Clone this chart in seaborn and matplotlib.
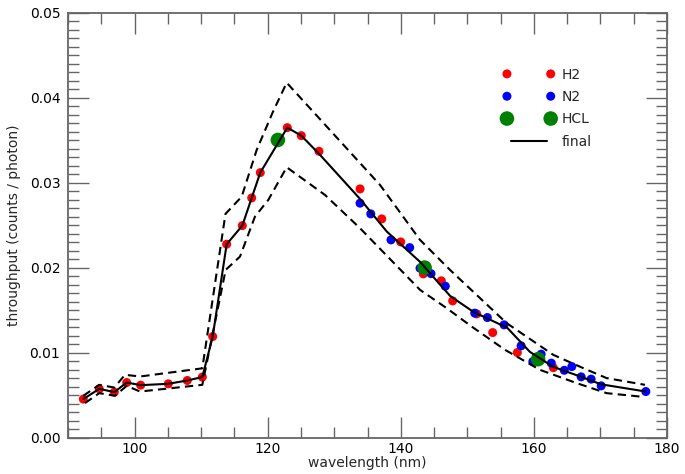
import numpy as np
import pandas as pd
import matplotlib
matplotlib.use("Agg")
import matplotlib.pyplot as plt
from matplotlib.ticker import MultipleLocator, FormatStrFormatter
from matplotlib.legend_handler import HandlerPathCollection
import seaborn as sns

# measured throughput, per gas
h2_wl = [92.30, 94.70, 96.96, 98.82, 100.92, 105.07, 107.92, 110.18, 111.74, 113.84,
         116.19, 117.60, 118.89, 122.95, 125.05, 127.71, 133.88, 137.14, 139.99, 143.39,
         146.09, 147.80, 151.41, 153.81, 157.51, 162.92]
h2_tp = [0.00452, 0.00573, 0.00534, 0.00647, 0.00616, 0.00632, 0.00671, 0.00711, 0.01188, 0.02275,
         0.02494, 0.02820, 0.03118, 0.03647, 0.03553, 0.03369, 0.02926, 0.02573, 0.02302, 0.01926,
         0.01844, 0.01608, 0.01455, 0.01235, 0.01000, 0.00822]

n2_wl = [133.88, 135.49, 138.53, 141.34, 142.89, 144.54, 146.69, 151.11, 153.01, 155.52,
         158.08, 159.84, 161.09, 162.62, 164.57, 165.70, 167.10, 168.60, 170.11, 176.82]
n2_tp = [0.02758, 0.02632, 0.02326, 0.02235, 0.01993, 0.01929, 0.01781, 0.01464, 0.01412, 0.01326,
         0.01079, 0.00894, 0.00981, 0.00875, 0.00791, 0.00835, 0.00714, 0.00687, 0.00608, 0.00541]

hcl_wl = [121.53, 143.58, 160.63]
hcl_tp = [0.03502, 0.02000, 0.00922]

# final curve and its upper / lower envelope
final_wl = [92.30, 94.70, 96.96, 98.82, 100.92, 105.07, 107.92, 110.18, 111.74, 113.84,
            116.19, 117.60, 118.89, 122.95, 125.05, 127.71, 133.88, 137.90, 142.90, 147.40,
            150.90, 156.00, 159.40, 162.90, 167.10, 170.10, 176.82]
final_tp = [0.00452, 0.00573, 0.00534, 0.00647, 0.00616, 0.00632, 0.00671, 0.00711, 0.01188, 0.02275,
            0.02494, 0.02820, 0.03118, 0.03647, 0.03553, 0.03340, 0.02808, 0.02424, 0.02067, 0.01667,
            0.01479, 0.01291, 0.01008, 0.00832, 0.00714, 0.00626, 0.00541]

upper_wl = [92.30, 94.70, 96.96, 98.56, 100.82, 110.18, 113.66, 116.10, 118.35, 120.80,
            122.86, 136.88, 142.89, 147.39, 155.91, 162.91, 167.43, 170.93, 176.69]
upper_tp = [0.00491, 0.00620, 0.00588, 0.00738, 0.00718, 0.00814, 0.02632, 0.02835, 0.03385, 0.03835,
            0.04176, 0.02973, 0.02326, 0.01973, 0.01346, 0.00973, 0.00816, 0.00699, 0.00620]

lower_wl = [92.55, 94.70, 97.06, 98.82, 100.82, 110.18, 113.69, 115.84, 118.09, 120.09,
            122.86, 128.61, 133.87, 142.89, 146.90, 150.65, 155.66, 160.92, 166.43, 170.93, 175.93]
lower_tp = [0.00405, 0.00522, 0.00491, 0.00608, 0.00541, 0.00620, 0.01973, 0.02129, 0.02600, 0.02796,
            0.03181, 0.02855, 0.02464, 0.01738, 0.01522, 0.01306, 0.01032, 0.00796, 0.00640, 0.00522, 0.00482]

sns.set_style("ticks")
plt.rcParams['font.family'] = ['DejaVu Sans']

fig = plt.figure(figsize=(6.85, 4.74), dpi=100)
ax = fig.add_axes([68 / 685, 1 - 437.5 / 474, (667 - 68) / 685, (437.5 - 12.7) / 474])

h1 = ax.scatter(h2_wl, h2_tp, s=42, color='red', edgecolors='none', label='H2', zorder=2)
h2 = ax.scatter(n2_wl, n2_tp, s=42, color='blue', edgecolors='none', label='N2', zorder=2)
h3 = ax.scatter(hcl_wl, hcl_tp, s=110, color='green', edgecolors='none', label='HCL', zorder=3)

sns.lineplot(x=final_wl, y=final_tp, ax=ax, color='black', lw=1.5, estimator=None,
             sort=False, label='final', zorder=4)
sns.lineplot(x=upper_wl, y=upper_tp, ax=ax, color='black', lw=1.5, estimator=None,
             sort=False, zorder=4)
sns.lineplot(x=lower_wl, y=lower_tp, ax=ax, color='black', lw=1.5, estimator=None,
             sort=False, zorder=4)
for ln in ax.lines[1:]:
    ln.set_dashes((4, 2.5))
h4 = ax.lines[0]

ax.set_xlim(90, 180)
ax.set_ylim(0, 0.05)
ax.xaxis.set_major_locator(MultipleLocator(20))
ax.xaxis.set_minor_locator(MultipleLocator(5))
ax.yaxis.set_major_locator(MultipleLocator(0.01))
ax.yaxis.set_minor_locator(MultipleLocator(0.001))
ax.yaxis.set_major_formatter(FormatStrFormatter('%.2f'))

ax.tick_params(which='both', direction='in', top=True, right=True, bottom=True, left=True,
               color='#666666', labelsize=10, labelcolor='black')
ax.tick_params(which='major', length=15, width=1.0)
ax.tick_params(which='minor', length=8, width=1.0)
ax.tick_params(axis='x', which='major', pad=3)
ax.tick_params(axis='y', which='major', pad=5.5)
for sp in ax.spines.values():
    sp.set_color('#666666')
    sp.set_linewidth(1.3)

ax.set_xlabel('wavelength (nm)', fontsize=10, labelpad=0)
ax.set_ylabel('throughput (counts / photon)', fontsize=10, labelpad=6)

hmap = {h: HandlerPathCollection(marker_pad=0) for h in (h1, h2, h3)}
ax.legend(handles=[h1, h2, h3, h4], labels=['H2', 'N2', 'HCL', 'final'],
          loc='upper left', bbox_to_anchor=(0.7235, 0.8835), borderaxespad=0,
          frameon=False, scatterpoints=2, numpoints=2, scatteryoffsets=[0.5],
          handlelength=3.15, handletextpad=0.8, labelspacing=0.6, fontsize=10,
          handler_map=hmap)

fig.savefig('out.png', dpi=100)
